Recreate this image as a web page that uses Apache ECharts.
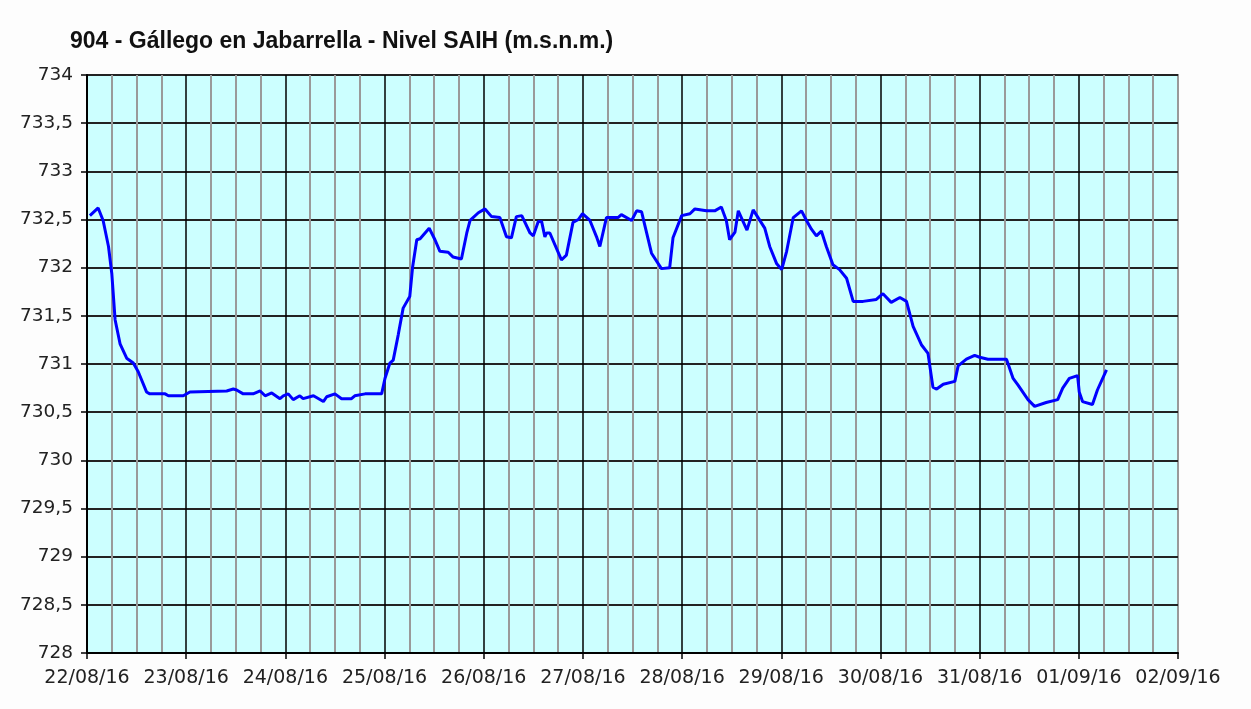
<!DOCTYPE html>
<html>
<head>
<meta charset="utf-8">
<title>904 - Gállego en Jabarrella</title>
<script src="https://cdn.jsdelivr.net/npm/echarts@6/dist/echarts.min.js"></script>
<style>
	html, body { margin: 0; padding: 0; background: #fdfdfd; }
	#chart { width: 1251px; height: 709px; }
</style>
</head>
<body>
<div id="chart"></div>
<script>
// horas desde 22/08/16 00:00
var hours = [0.7, 2.7, 3.9, 5.2, 6.0, 6.8, 8.0, 9.6, 11.2, 12.4, 14.4, 15.2, 18.9, 19.7, 23.3, 24.9,
	33.8, 35.4, 36.2, 37.8, 40.2, 41.9, 43.1, 44.7, 46.7, 47.5, 48.7, 49.9, 51.5, 52.3, 54.8, 57.2,
	58.0, 60.0, 61.6, 64.0, 64.8, 67.3, 71.3, 72.1, 73.3, 74.1, 75.3, 76.5, 78.1, 78.8, 79.8, 80.6,
	82.8, 84.2, 85.4, 87.4, 88.6, 90.6, 91.9, 92.7, 94.7, 96.3, 97.9, 99.9, 101.5, 102.7, 103.9, 105.2,
	107.2, 108.0, 109.2, 110.0, 110.8, 111.2, 112.0, 114.8, 116.0, 117.6, 118.9, 119.9, 121.7, 123.3,
	124.1, 125.7, 128.5, 129.3, 131.8, 133.0, 134.2, 136.6, 139.0, 141.0, 141.8, 143.9, 145.9, 147.1,
	149.9, 151.9, 153.5, 154.7, 155.5, 156.8, 157.6, 159.7, 161.2, 164.0, 165.2, 166.9, 168.1, 169.3,
	170.9, 172.9, 174.1, 175.3, 176.5, 177.7, 178.9, 180.5, 182.1, 183.8, 185.4, 187.8, 191.0, 192.6,
	194.6, 196.7, 198.3, 199.9, 201.9, 203.5, 204.7, 205.6, 207.2, 210.0, 210.8, 212.8, 214.8, 216.0,
	218.0, 222.5, 224.1, 225.3, 227.7, 229.3, 232.1, 234.9, 236.1, 237.7, 239.7, 240.1, 240.9, 243.3,
	244.5, 246.7];

// nivel (m.s.n.m.)
var levels = [732.54, 732.62, 732.49, 732.22, 731.94, 731.46, 731.21, 731.06, 731.01, 730.92, 730.71, 730.69, 730.69, 730.67, 730.67, 730.71,
	730.72, 730.74, 730.73, 730.69, 730.69, 730.72, 730.67, 730.70, 730.64, 730.67, 730.69, 730.63, 730.67, 730.64, 730.67, 730.61,
	730.66, 730.69, 730.64, 730.64, 730.67, 730.69, 730.69, 730.85, 731.01, 731.04, 731.30, 731.58, 731.70, 732.01, 732.29, 732.30,
	732.41, 732.29, 732.17, 732.16, 732.11, 732.09, 732.36, 732.49, 732.57, 732.61, 732.53, 732.52, 732.32, 732.31, 732.53, 732.54,
	732.36, 732.33, 732.48, 732.48, 732.32, 732.36, 732.36, 732.08, 732.13, 732.47, 732.50, 732.56, 732.49, 732.32,
	732.22, 732.52, 732.52, 732.55, 732.49, 732.59, 732.58, 732.15, 731.99, 732.00, 732.31, 732.54, 732.56, 732.61,
	732.59, 732.59, 732.63, 732.49, 732.29, 732.37, 732.59, 732.39, 732.60, 732.41, 732.22, 732.04, 731.98, 732.17,
	732.52, 732.59, 732.49, 732.40, 732.33, 732.38, 732.22, 732.03, 731.98, 731.89, 731.65, 731.65, 731.67, 731.73,
	731.64, 731.69, 731.65, 731.39, 731.20, 731.11, 730.76, 730.74, 730.79, 730.82, 730.98, 731.05, 731.09, 731.07,
	731.05, 731.05, 730.85, 730.78, 730.63, 730.56, 730.60, 730.63, 730.75, 730.85, 730.88, 730.71, 730.61, 730.58,
	730.73, 730.94];

var dayLabels = ['22/08/16', '23/08/16', '24/08/16', '25/08/16', '26/08/16', '27/08/16',
	'28/08/16', '29/08/16', '30/08/16', '31/08/16', '01/09/16', '02/09/16'];

var chart = echarts.init(document.getElementById('chart'));

var series = hours.map(function (h, i) { return [h, levels[i]]; });

var option = {
	backgroundColor: '#fdfdfd',
	animation: false,
	title: {
		text: '904 - Gállego en Jabarrella - Nivel SAIH (m.s.n.m.)',
		left: 65,
		top: 25,
		textStyle: {
			fontFamily: 'Liberation Sans',
			fontWeight: 'bold',
			fontSize: 23,
			color: '#111'
		}
	},
	grid: {
		left: 87,
		right: 73,
		top: 75,
		bottom: 56,
		show: true,
		backgroundColor: '#ccffff',
		borderColor: '#999',
		borderWidth: 2
	},
	xAxis: {
		type: 'value',
		min: 0,
		max: 264,
		interval: 24,
		axisLine: { onZero: false, lineStyle: { color: '#000', width: 2 } },
		axisTick: { show: true, length: 6, lineStyle: { color: '#000', width: 1.5 } },
		axisLabel: {
			margin: 16,
			fontFamily: 'DejaVu Sans',
			fontSize: 19,
			color: '#222',
			showMaxLabel: true,
			formatter: function (v) { return dayLabels[Math.round(v / 24)]; }
		},
		splitLine: { show: true, showMaxLine: false, lineStyle: { color: '#000', width: 1.5 } },
		minorTick: { show: false, splitNumber: 4 },
		minorSplitLine: { show: true, lineStyle: { color: '#9a9a9a', width: 2 } }
	},
	yAxis: {
		type: 'value',
		min: 728,
		max: 734,
		interval: 0.5,
		axisLine: { show: true, lineStyle: { color: '#000', width: 2 } },
		axisTick: { show: true, length: 6, lineStyle: { color: '#000', width: 1.5 } },
		axisLabel: {
			margin: 14,
			fontFamily: 'DejaVu Sans',
			fontSize: 18.5,
			color: '#222',
			formatter: function (v) { return String(v).replace('.', ','); }
		},
		splitLine: { show: true, lineStyle: { color: '#222', width: 2 } }
	},
	series: [
		{
			type: 'line',
			data: series,
			showSymbol: false,
			lineStyle: { color: '#0000ff', width: 3 }
		}
	]
};

chart.setOption(option);
</script>
</body>
</html>
